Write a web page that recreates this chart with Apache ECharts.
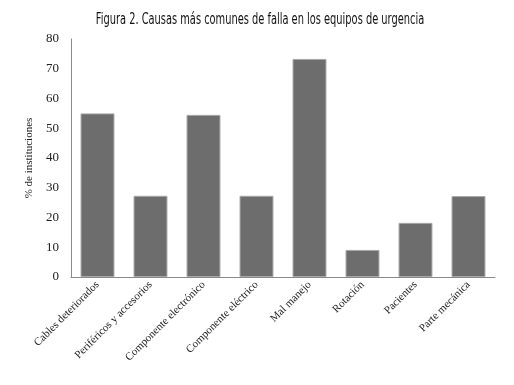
<!DOCTYPE html>
<html>
<head>
<meta charset="utf-8">
<script src="https://cdn.jsdelivr.net/npm/echarts@6/dist/echarts.min.js"></script>
<style>
  html, body { margin: 0; padding: 0; background: #fff; }
  #chart { width: 514px; height: 385px; }
</style>
</head>
<body>
<div id="chart"></div>
<script>
// categorías (eje x)
var causas = [
  "Cables deteriorados",
  "Periféricos y accesorios",
  "Componente electrónico",
  "Componente eléctrico",
  "Mal manejo",
  "Rotación",
  "Pacientes",
  "Parte mecánica"
];
// % de instituciones
var porcentajes = [55, 27.3, 54.5, 27.3, 73.3, 9.1, 18.2, 27.2];

var titulo = "Figura 2. Causas más comunes de falla en los equipos de urgencia";

var myChart = echarts.init(document.getElementById("chart"));
myChart.setOption({
  animation: false,
  // título con letra condensada (escalado horizontal)
  graphic: [{
    type: "text",
    x: 260,
    y: 20,
    scaleX: 0.73,
    style: {
      text: titulo,
      font: "15px 'DejaVu Sans Condensed'",
      textAlign: "center",
      textVerticalAlign: "middle",
      fill: "#111"
    }
  }],
  grid: { left: 71, right: 19, top: 39, bottom: 108 },
  xAxis: {
    type: "category",
    data: causas,
    axisLine: { lineStyle: { color: "#8a8a8a", width: 1 } },
    axisTick: { show: false },
    axisLabel: {
      rotate: 45,
      interval: 0,
      margin: 6,
      fontFamily: "Liberation Serif",
      fontSize: 11,
      color: "#222"
    }
  },
  yAxis: {
    type: "value",
    min: 0,
    max: 80,
    interval: 10,
    name: "% de instituciones",
    nameLocation: "middle",
    nameGap: 31,
    nameTextStyle: {
      fontFamily: "Liberation Serif",
      fontSize: 11,
      color: "#222"
    },
    axisLine: { show: true, lineStyle: { color: "#8a8a8a", width: 1 } },
    axisTick: { show: false },
    splitLine: { show: false },
    axisLabel: {
      margin: 12,
      fontFamily: "Liberation Serif",
      fontSize: 13,
      color: "#222"
    }
  },
  series: [{
    type: "bar",
    data: porcentajes,
    barWidth: "64%",
    itemStyle: {
      color: "#6d6d6d",
      borderColor: "#a8a8a8",
      borderWidth: 1
    }
  }]
});
window.addEventListener("resize", function () {
  myChart.resize();
});
</script>
</body>
</html>
